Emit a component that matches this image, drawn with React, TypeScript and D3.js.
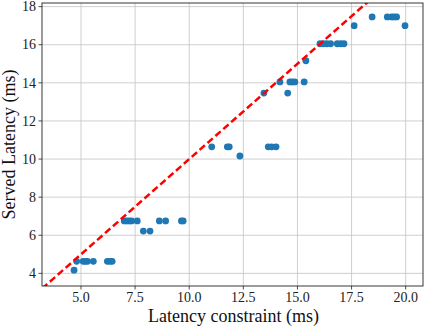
import React from 'react'
import * as d3 from 'd3'

// served latency vs. latency constraint (ms)
const constraintMs = [
  4.68, 4.8, 5.1, 5.2, 5.3, 5.57, 6.22, 6.34, 6.44,
  7.0, 7.11, 7.23, 7.34, 7.6, 8.62, 8.91, 9.64, 9.72,
  7.88, 8.19,
  11.04, 11.76, 11.85, 13.65, 13.81, 14.01, 12.34,
  13.45, 14.55, 14.19, 14.65, 14.76, 14.88, 15.31, 15.39,
  16.04, 16.19, 16.35, 16.53, 16.84, 17.0, 17.15,
  17.62, 18.45, 19.15, 19.35, 19.46, 19.58, 19.97,
]
const servedMs = [
  4.17, 4.63, 4.63, 4.63, 4.63, 4.63, 4.63, 4.63, 4.63,
  6.75, 6.75, 6.75, 6.75, 6.75, 6.75, 6.75, 6.75, 6.75,
  6.22, 6.22,
  10.64, 10.64, 10.64, 10.64, 10.64, 10.64, 10.16,
  13.46, 13.46, 14.05, 14.05, 14.05, 14.05, 14.05, 15.16,
  16.05, 16.05, 16.05, 16.05, 16.05, 16.05, 16.05,
  17.0, 17.46, 17.46, 17.46, 17.46, 17.46, 17.0,
]
const xTicks = [5, 7.5, 10, 12.5, 15, 17.5, 20]
const yTicks = [4, 6, 8, 10, 12, 14, 16, 18]

const W = 424
const H = 327
const m = {left: 42, right: 423, top: 3, bottom: 286}
const font = '"Liberation Serif", "Times New Roman", serif'

export default function App() {
  const x = d3.scaleLinear().domain([3.199, 20.8]).range([m.left, m.right])
  const y = d3.scaleLinear().domain([3.337, 18.19]).range([m.bottom, m.top])

  const ideal = d3.line<number>().x(d => x(d)).y(d => y(d))(x.domain())

  return (
    <svg width={W} height={H} style={{position: 'fixed', left: 0, top: 0, background: '#fff'}}>
      <defs>
        <clipPath id="plotArea">
          <rect x={m.left} y={m.top} width={m.right - m.left} height={m.bottom - m.top} />
        </clipPath>
      </defs>

      {/* grid */}
      <g stroke="#b0b0b0" strokeWidth={0.8} opacity={0.75}>
        {xTicks.map(t => <line key={'gx' + t} x1={x(t)} x2={x(t)} y1={m.top} y2={m.bottom} />)}
        {yTicks.map(t => <line key={'gy' + t} x1={m.left} x2={m.right} y1={y(t)} y2={y(t)} />)}
      </g>

      <g clipPath="url(#plotArea)">
        {constraintMs.map((c, i) => (
          <circle key={i} cx={x(c)} cy={y(servedMs[i])} r={3.4} fill="#1f77b4" />
        ))}
        <path d={ideal ?? ''} fill="none" stroke="#ff0000" strokeWidth={2.5} strokeDasharray="7,3.5" />
      </g>

      {/* frame */}
      <rect x={m.left} y={m.top} width={m.right - m.left} height={m.bottom - m.top}
        fill="none" stroke="#222" strokeWidth={0.9} />

      {/* ticks */}
      <g stroke="#222" strokeWidth={0.8}>
        {xTicks.map(t => <line key={'tx' + t} x1={x(t)} x2={x(t)} y1={m.bottom} y2={m.bottom + 3.5} />)}
        {yTicks.map(t => <line key={'ty' + t} x1={m.left - 3.5} x2={m.left} y1={y(t)} y2={y(t)} />)}
      </g>

      <g fontFamily={font} fontSize={14} fill="#222">
        {xTicks.map(t => (
          <text key={'lx' + t} x={x(t)} y={302} textAnchor="middle">{d3.format('.1f')(t)}</text>
        ))}
        {yTicks.map(t => (
          <text key={'ly' + t} x={m.left - 6} y={y(t)} dy="0.34em" textAnchor="end">{t}</text>
        ))}
      </g>

      <text x={(m.left + m.right) / 2 + 1} y={322} textAnchor="middle" fontFamily={font} fontSize={18} fill="#111">
        Latency constraint (ms)
      </text>
      <text transform={`translate(15, ${(m.top + m.bottom) / 2}) rotate(-90)`} textAnchor="middle"
        fontFamily={font} fontSize={18} fill="#111">
        Served Latency (ms)
      </text>
    </svg>
  )
}
